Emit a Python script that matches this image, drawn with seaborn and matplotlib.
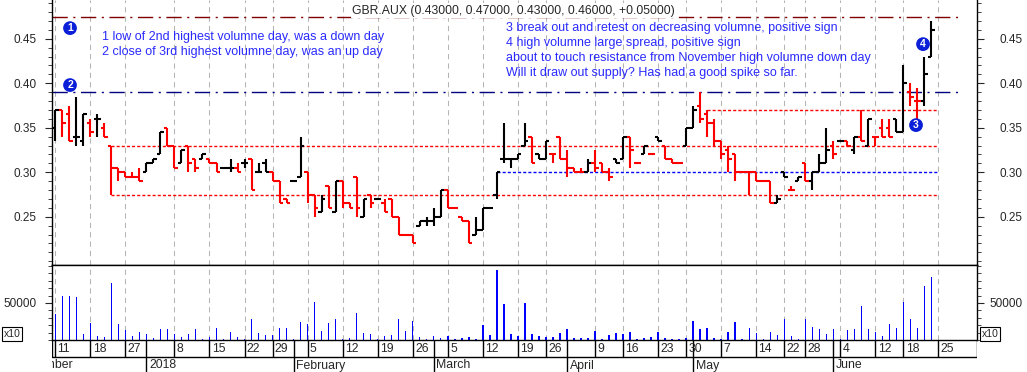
import numpy as np
import pandas as pd
import seaborn as sns
import matplotlib.pyplot as plt
from matplotlib.ticker import FixedLocator, MultipleLocator

# ==========================================
# SECTION 1: DATA
# ==========================================
# one entry per trading day, Dec 11 2017 .. Jun 22 2018
opens = [0.35, 0.37, 0.365, 0.34, 0.335, 0.355, 0.36, 0.35, 0.33, 0.305,
         0.30, 0.295, 0.295, 0.30, 0.31, 0.32, 0.35, 0.33, 0.31, 0.33,
         0.315, 0.315, 0.315, 0.31, 0.305, 0.305, 0.305, 0.31, 0.315, 0.30,
         0.31, 0.30, 0.29, 0.27, 0.29, 0.295, 0.30, 0.275, 0.255, 0.285,
         0.255, 0.29, 0.265, 0.295, 0.25, 0.275, 0.27, 0.265, 0.27, 0.25,
         0.23, 0.23, 0.24, 0.245, 0.245, 0.25, 0.28, 0.26, 0.25, 0.245,
         0.23, 0.235, 0.26, 0.275, 0.315, 0.315, 0.315, 0.33, 0.34, 0.32,
         0.315, 0.32, 0.34, 0.315, 0.305, 0.30, 0.30, 0.31, 0.31, 0.30,
         0.315, 0.315, 0.34, 0.31, 0.32, 0.32, 0.34, 0.33, 0.315, 0.31,
         0.33, 0.35, 0.375, 0.365, 0.355, 0.335, 0.325, 0.32, 0.30, 0.30,
         0.30, 0.29, 0.29, 0.265, 0.30, 0.28, 0.29, 0.31, 0.29, 0.30,
         0.31, 0.33, 0.335, 0.335, 0.325, 0.34, 0.33, 0.34, 0.35, 0.35,
         0.36, 0.345, 0.39, 0.38, 0.38, 0.43]
highs = [0.37, 0.37, 0.375, 0.385, 0.365, 0.36, 0.365, 0.355, 0.33, 0.305,
         0.30, 0.30, 0.305, 0.31, 0.315, 0.345, 0.35, 0.33, 0.325, 0.33,
         0.315, 0.32, 0.315, 0.31, 0.305, 0.315, 0.31, 0.315, 0.315, 0.31,
         0.315, 0.30, 0.29, 0.27, 0.29, 0.34, 0.30, 0.275, 0.275, 0.285,
         0.29, 0.29, 0.265, 0.295, 0.27, 0.275, 0.27, 0.27, 0.27, 0.25,
         0.23, 0.23, 0.245, 0.25, 0.26, 0.28, 0.28, 0.26, 0.25, 0.245,
         0.25, 0.26, 0.26, 0.30, 0.355, 0.315, 0.32, 0.355, 0.34, 0.32,
         0.335, 0.32, 0.34, 0.325, 0.305, 0.305, 0.315, 0.325, 0.31, 0.305,
         0.315, 0.34, 0.34, 0.31, 0.33, 0.32, 0.34, 0.33, 0.315, 0.31,
         0.35, 0.375, 0.39, 0.37, 0.36, 0.335, 0.33, 0.32, 0.30, 0.30,
         0.30, 0.29, 0.29, 0.275, 0.30, 0.285, 0.295, 0.31, 0.30, 0.32,
         0.35, 0.335, 0.335, 0.335, 0.34, 0.37, 0.36, 0.34, 0.36, 0.36,
         0.36, 0.42, 0.40, 0.395, 0.43, 0.47]
lows = [0.335, 0.34, 0.335, 0.33, 0.33, 0.34, 0.34, 0.34, 0.275, 0.29,
        0.295, 0.295, 0.29, 0.30, 0.31, 0.32, 0.33, 0.305, 0.31, 0.30,
        0.30, 0.315, 0.31, 0.30, 0.305, 0.30, 0.30, 0.305, 0.28, 0.30,
        0.30, 0.29, 0.265, 0.265, 0.29, 0.295, 0.265, 0.25, 0.255, 0.26,
        0.255, 0.26, 0.26, 0.25, 0.25, 0.26, 0.27, 0.255, 0.25, 0.23,
        0.23, 0.22, 0.24, 0.24, 0.24, 0.25, 0.26, 0.26, 0.245, 0.22,
        0.23, 0.235, 0.26, 0.27, 0.31, 0.305, 0.315, 0.33, 0.31, 0.315,
        0.315, 0.31, 0.315, 0.295, 0.30, 0.30, 0.30, 0.30, 0.30, 0.29,
        0.31, 0.315, 0.305, 0.31, 0.32, 0.32, 0.335, 0.315, 0.31, 0.31,
        0.33, 0.35, 0.355, 0.34, 0.33, 0.315, 0.30, 0.29, 0.30, 0.275,
        0.29, 0.29, 0.265, 0.265, 0.295, 0.28, 0.29, 0.29, 0.28, 0.30,
        0.31, 0.315, 0.335, 0.33, 0.32, 0.335, 0.33, 0.33, 0.34, 0.34,
        0.345, 0.345, 0.375, 0.36, 0.375, 0.43]
closes = [0.37, 0.355, 0.335, 0.34, 0.365, 0.345, 0.36, 0.34, 0.305, 0.30,
          0.295, 0.295, 0.29, 0.31, 0.315, 0.345, 0.33, 0.305, 0.325, 0.31,
          0.305, 0.32, 0.31, 0.30, 0.305, 0.305, 0.30, 0.31, 0.28, 0.30,
          0.30, 0.29, 0.265, 0.265, 0.29, 0.33, 0.275, 0.26, 0.27, 0.26,
          0.29, 0.265, 0.26, 0.26, 0.27, 0.265, 0.27, 0.255, 0.25, 0.23,
          0.23, 0.22, 0.245, 0.245, 0.25, 0.28, 0.26, 0.26, 0.245, 0.22,
          0.235, 0.26, 0.26, 0.30, 0.315, 0.315, 0.32, 0.335, 0.31, 0.315,
          0.335, 0.32, 0.315, 0.305, 0.30, 0.30, 0.31, 0.305, 0.30, 0.295,
          0.31, 0.34, 0.325, 0.31, 0.33, 0.32, 0.335, 0.315, 0.31, 0.31,
          0.35, 0.37, 0.36, 0.355, 0.335, 0.32, 0.315, 0.30, 0.30, 0.30,
          0.29, 0.29, 0.265, 0.27, 0.295, 0.28, 0.295, 0.29, 0.30, 0.31,
          0.325, 0.32, 0.335, 0.33, 0.34, 0.335, 0.36, 0.34, 0.34, 0.34,
          0.345, 0.40, 0.385, 0.38, 0.41, 0.46]
volumes = [35400, 59000, 59000, 57700, 8200, 23600, 5500, 4500, 76400, 21800,
           13600, 5500, 10900, 8200, 2700, 15000, 15000, 8200, 4100, 8200,
           15000, 1400, 4100, 16400, 1400, 10900, 4100, 1400, 28600, 9500,
           6800, 6800, 16400, 16400, 1400, 24500, 21800, 51800, 12300, 23200,
           28600, 1400, 2700, 36800, 9500, 8200, 1400, 5500, 6800, 28600,
           12300, 25900, 4100, 1400, 5500, 2700, 5500, 1400, 2700, 4100,
           1400, 20500, 6800, 94100, 49100, 8200, 5500, 50500, 8200, 5500,
           4100, 4100, 9500, 15000, 2700, 2700, 2700, 12300, 1400, 6800,
           9500, 8200, 10900, 1400, 2700, 4100, 10900, 2700, 1400, 1400,
           2700, 25900, 15000, 16400, 2700, 1400, 10900, 24500, 1400, 16400,
           9500, 1400, 10900, 6800, 28600, 5500, 1400, 28600, 17700, 15000,
           8200, 15000, 1400, 13600, 15000, 46400, 15000, 10900, 5500, 21800,
           16400, 51800, 28600, 16400, 73600, 85500]

# trading-day index of each week start / month start on the date strip
week_pos = [0, 5, 10, 17, 22, 27, 31, 36, 41, 46, 51, 56, 61, 66, 70, 77,
            81, 86, 90, 95, 100, 104, 107, 112, 117, 121, 126]
week_labels = ['11', '18', '27', '8', '15', '22', '29', '5', '12', '19', '26',
               '5', '12', '19', '26', '9', '16', '23', '30', '7', '14', '22',
               '28', '4', '12', '18', '25']
month_pos = [-6, 13, 34, 54, 73, 91, 111]
month_labels = ['December', '2018', 'February', 'March', 'April', 'May', 'June']

price_ticks = [0.25, 0.30, 0.35, 0.40, 0.45]
volume_ticks = [50000]

title = 'GBR.AUX (0.43000, 0.47000, 0.43000, 0.46000, +0.05000)'
notes_left = ['1 low of 2nd highest volumne day, was a down day',
              '2 close of 3rd highest volumne day, was an up day']
notes_right = ['3 break out and retest on decreasing volumne, positive sign',
               '4 high volumne large spread, positive sign',
               'about to touch resistance from November high volumne down day',
               'Will it draw out supply? Has had a good spike so far.']

# ==========================================
# SECTION 2: SETUP & THEMING
# ==========================================
sns.set_style("white")
plt.rcParams['font.family'] = ['Liberation Sans', 'DejaVu Sans']
plt.rcParams['font.size'] = 8.5

W, H = 1027, 372
fig = plt.figure(figsize=(W / 100, H / 100), dpi=100)


def px_axes(left, top, right, bottom):
    return fig.add_axes([left / W, 1 - bottom / H, (right - left) / W, (bottom - top) / H])


ax = px_axes(52, 0, 977, 265)      # price bars
axv = px_axes(52, 265, 977, 340)   # volume
axd = px_axes(52, 340, 977, 372)   # date strip
x_lo, x_hi = -0.47, 131.5

# ==========================================
# SECTION 3: PRICE PANEL
# ==========================================
days = np.arange(len(closes))

# colour by close vs previous close, ties keep previous colour
bar_colors = []
for i, c in enumerate(closes):
    if i == 0 or c > closes[i - 1]:
        col = 'black'
    elif c < closes[i - 1]:
        col = 'red'
    else:
        col = bar_colors[-1]
    bar_colors.append(col)

ax.vlines(days, lows, highs, colors=bar_colors, lw=1.5, zorder=3)
ax.hlines(opens, days - 0.5, days, colors=bar_colors, lw=1.5, zorder=3)
ax.hlines(closes, days, days + 0.5, colors=bar_colors, lw=1.5, zorder=3)

# support / resistance lines
ax.hlines(0.475, x_lo, 129.1, colors='#800000', lw=1, linestyles=(0, (11, 4, 1.5, 4)))
ax.hlines(0.39, x_lo, 129.1, colors='#000080', lw=1, linestyles=(0, (11, 4, 1.5, 4)))
ax.hlines([0.33, 0.275], 8, 126, colors='red', lw=1, linestyles=(0, (2.2, 1.5)))
ax.hlines(0.37, 93, 126, colors='red', lw=1, linestyles=(0, (2.2, 1.5)))
ax.hlines(0.30, 63, 126, colors='#0000ff', lw=1, linestyles=(0, (2.2, 1.5)))

# numbered markers
for num, (mx, my) in zip(['1', '2', '3', '4'],
                         [(2.1, 0.462), (2.1, 0.398), (122.8, 0.353), (123.8, 0.444)]):
    ax.text(mx, my, num, ha='center', va='center', color='white', fontsize=7.5,
            fontweight='bold', zorder=5,
            bbox=dict(boxstyle='circle,pad=0.18', fc='#0b1ed8', ec='none'))

ax.set_xlim(x_lo, x_hi)
ax.set_ylim(0.1958, 0.4936)
ax.yaxis.set_major_locator(FixedLocator(price_ticks))
ax.yaxis.set_minor_locator(MultipleLocator(0.01))
ax.set_yticklabels([f'{t:.2f}' for t in price_ticks])
ax.tick_params(axis='y', which='major', length=5, pad=6, direction='out', left=True, labelsize=8.5)
ax.tick_params(axis='y', which='minor', length=3, direction='out', left=True)

# ==========================================
# SECTION 4: VOLUME PANEL (seaborn bars)
# ==========================================
vol_df = pd.DataFrame({'day': days, 'volume': volumes})
sns.barplot(data=vol_df, x='day', y='volume', native_scale=True, width=0.2,
            color='#0000ff', saturation=1, linewidth=0, ax=axv)
for bar in axv.patches:
    bar.set_antialiased(False)   # crisp 1px sticks like the original
axv.set_xlabel('')
axv.set_ylabel('')
axv.set_xlim(x_lo, x_hi)
axv.set_ylim(0, 101350)
axv.yaxis.set_major_locator(FixedLocator(volume_ticks))
axv.yaxis.set_minor_locator(MultipleLocator(10000))
axv.set_yticklabels([str(v) for v in volume_ticks])
axv.tick_params(axis='y', which='major', length=5, pad=6, direction='out', left=True, labelsize=8.5)
axv.tick_params(axis='y', which='minor', length=3, direction='out', left=True)

# right hand scales
for base, pad, fmt in [(ax, 11, '{:.2f}'), (axv, 4, '{}')]:
    twin = base.twinx()
    twin.set_ylim(base.get_ylim())
    ticks = list(base.yaxis.get_majorticklocs())
    twin.yaxis.set_major_locator(FixedLocator(ticks))
    twin.yaxis.set_minor_locator(base.yaxis.get_minor_locator())
    twin.set_yticklabels([fmt.format(t) for t in ticks])
    twin.tick_params(axis='y', which='major', length=5, pad=pad, direction='out', right=True, labelsize=8.5)
    twin.tick_params(axis='y', which='minor', length=3, direction='out', right=True)
    for s in twin.spines.values():
        s.set_visible(False)

# weekly grid + frame
for a in (ax, axv):
    a.set_xticks(week_pos)
    a.tick_params(axis='x', length=0, labelbottom=False)
    a.grid(True, axis='x', color='#b4b4b4', lw=0.75, linestyle=(0, (5, 4)))
    a.set_axisbelow(True)
    for s in a.spines.values():
        s.set_color('black')
        s.set_linewidth(1.0)
ax.spines['top'].set_visible(False)

# "x10" multiplier boxes
for fx in (12 / W, 990 / W):
    fig.text(fx, 1 - 334 / H, 'x10', ha='center', va='center', fontsize=7.5,
             bbox=dict(boxstyle='square,pad=0.15', fc='white', ec='black', lw=0.8))

# ==========================================
# SECTION 5: DATE STRIP
# ==========================================
axd.set_xlim(x_lo, x_hi)
axd.set_ylim(0, 32)
axd.axis('off')
axd.axhline(15.3, color='black', lw=1)
axd.vlines([x_lo + 0.05, x_hi - 0.05], 15.3, 32, colors='black', lw=1)
axd.vlines(week_pos, 15.3, 32, colors='black', lw=1)
axd.vlines(month_pos, 0, 32, colors='black', lw=1)
for p, lab in zip(week_pos, week_labels):
    axd.text(p + 0.33, 23.2, lab, ha='left', va='center', fontsize=8.8, clip_on=True)
for p, lab in zip(month_pos, month_labels):
    axd.text(p + 0.38, 6.5, lab, ha='left', va='center', fontsize=8.8, clip_on=True)

# ==========================================
# SECTION 6: TITLE & NOTES
# ==========================================
fig.text(0.5, 1 - 11 / H, title, ha='center', va='center', fontsize=8.8,
         bbox=dict(boxstyle='square,pad=0.1', fc='white', ec='none'))
for k, line in enumerate(notes_left):
    fig.text(102 / W, 1 - (37 + 15.5 * k) / H, line, ha='left', va='center',
             color='#2a2aff', fontsize=9)
for k, line in enumerate(notes_right):
    fig.text(506 / W, 1 - (27.5 + 15.3 * k) / H, line, ha='left', va='center',
             color='#2a2aff', fontsize=9)

fig.savefig('out.png', dpi=100)
